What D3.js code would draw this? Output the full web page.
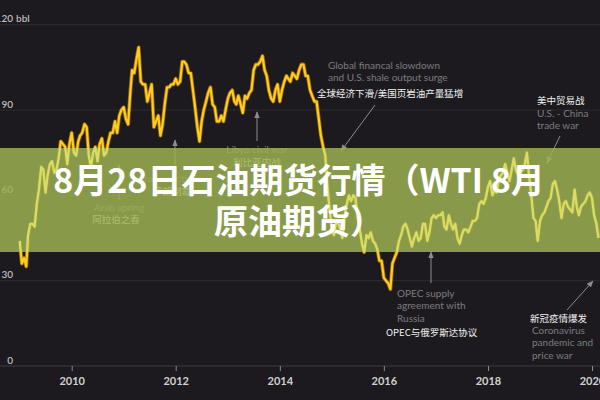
<!DOCTYPE html>
<html><head><meta charset="utf-8">
<script src="https://cdn.jsdelivr.net/npm/d3@7"></script>
<style>html,body{margin:0;padding:0;background:#1c1a1e;}svg{display:block;}</style>
</head><body>
<script>
// ---- data (semi-monthly WTI estimates, starting Jan 2009) ----
const startYear = 2009;
const prices = [
 44,36, 38,35, 46,50, 50,49, 57,62, 70,69, 61,67, 71,72, 68,69, 73,79, 78,77, 71,78,
 82,75, 74,79, 81,82, 85,84, 74,70, 75,77, 72,78, 80,74, 75,79, 82,82, 86,82, 88,90,
 91,87, 85,96, 104,103, 108,112, 100,99, 99,93, 96,99, 84,86, 88,81, 85,92, 98,98, 99,99,
 101,99, 100,107, 107,106, 103,103, 97,91, 84,79, 86,90, 93,96, 98,92, 91,86, 86,88, 86,90,
 94,96, 97,93, 92,95, 92,89, 95,94, 96,97, 104,106, 106,107, 109,104, 102,97, 94,93, 97,99,
 93,97, 100,102, 101,100, 103,102, 101,104, 106,106, 102,102, 97,95, 93,93, 87,81, 77,74, 63,55,
 48,46, 51,50, 48,45, 53,57, 60,58, 60,59, 52,48, 43,40, 46,45, 47,44, 43,41, 37,37,
 31,30, 29,27, 36,38, 40,44, 46,49, 50,48, 45,42, 45,47, 44,45, 50,50, 44,47, 52,53,
 52,53, 53,54, 49,48, 53,50, 48,50, 45,43, 46,48, 48,47, 49,51, 51,52, 57,58, 57,59,
 63,65, 60,62, 61,65, 67,68, 71,68, 65,69, 73,69, 67,68, 69,71, 75,67, 60,52, 51,44,
 51,53, 54,56, 58,59, 64,65, 62,58, 52,57, 58,56, 55,54, 62,56, 53,56, 57,58, 60,61,
 59,53, 50,45
];
const yTicks = [0, 30, 60, 90, 120];
const xTickYears = [2010, 2012, 2014, 2016, 2018, 2020];
const bannerLines = ["8月28日石油期货行情（WTI 8月", "原油期货）"];

const annotations = [
  {en: ["Global financal slowdown", "and U.S. shale output surge"], zh: "全球经济下滑/美国页岩油产量猛增"},
  {en: ["U.S. - China", "trade war"], zh: "美中贸易战"},
  {en: ["Libya civil war"], zh: "利比亚内战"},
  {en: ["Iran sanctions"], zh: "伊朗制裁"},
  {en: ["Arab spring"], zh: "阿拉伯之春"},
  {en: ["OPEC supply", "agreement with", "Russia"], zh: "OPEC与俄罗斯达协议"},
  {en: ["Coronavirus", "pandemic and", "price war"], zh: "新冠疫情爆发"}
];

// ---- layout ----
const W = 600, H = 400;
const svg = d3.select("body").append("svg").attr("width", W).attr("height", H);
svg.append("rect").attr("width", W).attr("height", H).attr("fill", "#1c1a1e");

const x = d3.scaleTime()
  .domain([new Date(2010, 0, 1), new Date(2020, 0, 1)])
  .range([71.7, 592]);
const y = d3.scaleLinear().domain([0, 120]).range([366, 24.7]);

const data = prices.map((v, i) => ({
  date: new Date(startYear + Math.floor(i / 24), Math.floor((i % 24) / 2), (i % 2) ? 16 : 1),
  v
}));

// grid
svg.append("g").selectAll("line").data(yTicks).join("line")
  .attr("x1", 0).attr("x2", W)
  .attr("y1", d => y(d)).attr("y2", d => y(d))
  .attr("stroke", d => d === 0 ? "#3c3a3e" : "#2e2c30").attr("stroke-width", 1);

// y labels
const yl = svg.append("g").attr("font-family", "Lato, 'Open Sans', sans-serif")
  .attr("font-size", 10).attr("fill", "#bdbdbd").attr("font-weight", 600);
yl.selectAll("text").data(yTicks).join("text")
  .attr("x", 13).attr("y", d => y(d) - 2.5).attr("text-anchor", "end").text(d => d);
yl.append("text").attr("x", 16).attr("y", y(120) - 2.5).text("bbl");

// x axis
const xAxis = d3.axisBottom(x)
  .tickValues(xTickYears.map(yr => new Date(yr, 0, 1)))
  .tickFormat(d3.timeFormat("%Y")).tickSize(5).tickPadding(6);
const gx = svg.append("g").attr("transform", `translate(0,${y(0)})`).call(xAxis);
gx.select(".domain").remove();
gx.selectAll(".tick line").attr("stroke", "#8a8a8a");
gx.selectAll(".tick text").attr("fill", "#d0d0d0").attr("font-size", 11)
  .attr("font-weight", 700).attr("font-family", "Lato, 'Open Sans', sans-serif");

// arrows
const defs = svg.append("defs");
defs.append("marker").attr("id", "ah").attr("viewBox", "0 0 10 10")
  .attr("refX", 9).attr("refY", 5).attr("markerWidth", 7).attr("markerHeight", 7)
  .attr("orient", "auto")
  .append("path").attr("d", "M0,1 L10,5 L0,9 Z").attr("fill", "#8c8c8c");

const annLayout = [
  {tx: 328, zx: 317, ty: 65, zy: 93, anchor: "start", arrow: [375, 105, 341, 151]},
  {tx: 537, zx: 537, ty: 113, zy: 100, anchor: "start", arrow: [560, 136, 547, 163]},
  {tx: 257, zx: 257, ty: 149, zy: 162, anchor: "middle", arrow: [257, 141, 257, 112]},
  {tx: 172, zx: 172, ty: 178, zy: 191, anchor: "middle", arrow: [175, 170, 175, 140]},
  {tx: 119, zx: 116, ty: 207, zy: 219, anchor: "middle", arrow: [119, 200, 119, 165]},
  {tx: 397, zx: 386, ty: 293, zy: 332, anchor: "start", arrow: [431, 283, 431, 252]},
  {tx: 532, zx: 530, ty: 330, zy: 318, anchor: "start", arrow: [567, 310, 593, 281]}
];

const ann = svg.append("g");
annotations.forEach((a, i) => {
  const L = annLayout[i];
  ann.append("line").attr("x1", L.arrow[0]).attr("y1", L.arrow[1])
    .attr("x2", L.arrow[2]).attr("y2", L.arrow[3])
    .attr("stroke", "#8c8c8c").attr("stroke-width", 1).attr("marker-end", "url(#ah)");
  a.en.forEach((t, j) => {
    ann.append("text").attr("x", L.tx).attr("y", L.ty + j * 12.5 + 3.5)
      .attr("text-anchor", L.anchor).attr("font-family", "Lato, 'Open Sans', sans-serif")
      .attr("font-size", 10).attr("fill", "#7c7c80").text(t);
  });
  ann.append("text").attr("x", L.zx).attr("y", L.zy + 3.5)
    .attr("text-anchor", L.anchor).attr("font-family", "'Noto Sans CJK SC', sans-serif")
    .attr("font-size", 9.5).attr("fill", "#f2f2f2").text(a.zh);
});

// price line
const line = d3.line().x(d => x(d.date)).y(d => y(d.v)).curve(d3.curveLinear);
svg.append("path").datum(data).attr("d", line).attr("fill", "none")
  .attr("stroke", "#c98a00").attr("stroke-width", 3.8).attr("stroke-opacity", 0.7)
  .attr("stroke-linejoin", "round");
svg.append("path").datum(data).attr("d", line).attr("fill", "none")
  .attr("stroke", "#ffcc1f").attr("stroke-width", 2.2).attr("stroke-linejoin", "round");

// banner
const bTop = 148, bBot = 252;
svg.append("rect").attr("x", 0).attr("y", bTop).attr("width", W).attr("height", bBot - bTop)
  .attr("fill", "rgb(158,177,84)").attr("fill-opacity", 0.84);
defs.append("clipPath").attr("id", "bclip").append("rect")
  .attr("x", 0).attr("y", bTop).attr("width", W).attr("height", bBot - bTop);
svg.append("path").datum(data).attr("d", line).attr("fill", "none")
  .attr("clip-path", "url(#bclip)")
  .attr("stroke", "#e6e66a").attr("stroke-width", 2.2).attr("stroke-opacity", 0.8)
  .attr("stroke-linejoin", "round");

svg.append("g").selectAll("text").data(bannerLines).join("text")
  .attr("x", 299).attr("y", (d, i) => 193 + i * 41)
  .attr("text-anchor", "middle")
  .attr("font-family", "'Noto Sans CJK SC', sans-serif")
  .attr("font-weight", 700).attr("font-size", 34).attr("fill", "#ffffff")
  .text(d => d);
</script>
</body></html>
